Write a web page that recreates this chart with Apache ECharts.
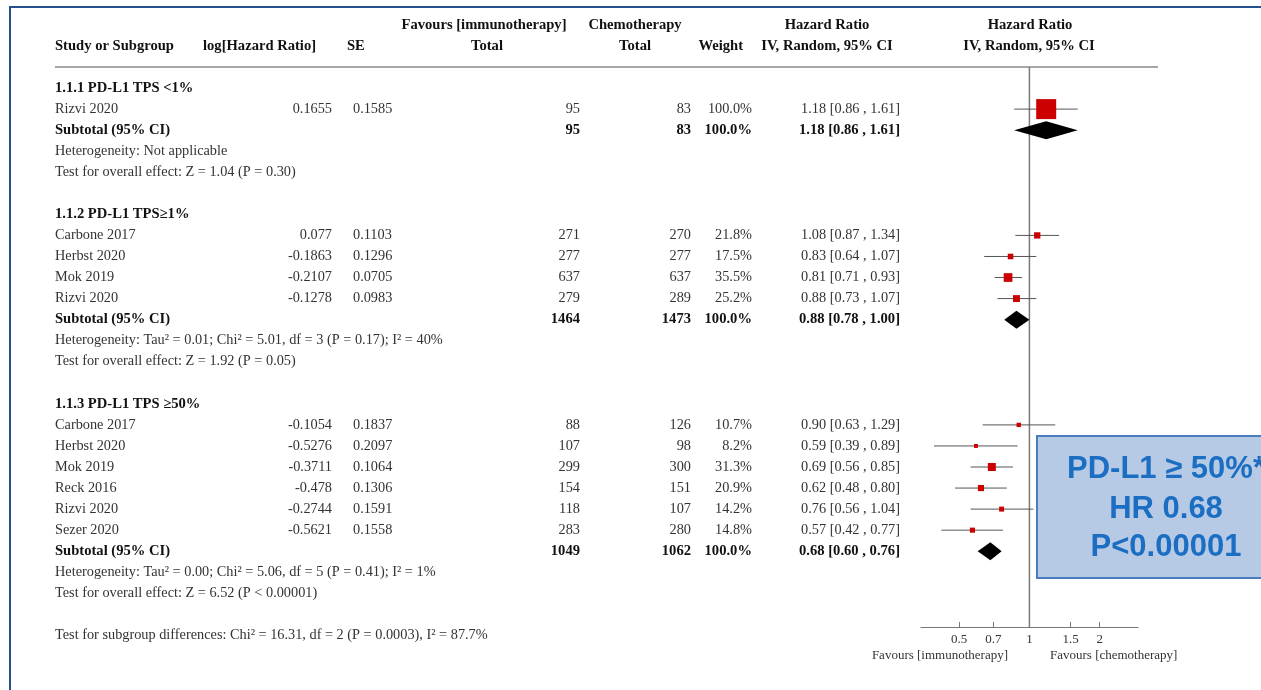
<!DOCTYPE html>
<html>
<head>
<meta charset="utf-8">
<script src="https://cdn.jsdelivr.net/npm/echarts@6/dist/echarts.min.js"></script>
<style>
  html, body { margin: 0; padding: 0; background: #ffffff; }
  #chart { width: 1261px; height: 690px; }
</style>
</head>
<body>
<div id="chart"></div>
<script>
// Subgroups
const groupTitles = ['1.1.1 PD-L1 TPS <1%', '1.1.2 PD-L1 TPS\u22651%', '1.1.3 PD-L1 TPS \u226550%'];

// Individual studies
const studyNames  = ['Rizvi 2020', 'Carbone 2017', 'Herbst 2020', 'Mok 2019', 'Rizvi 2020',
                     'Carbone 2017', 'Herbst 2020', 'Mok 2019', 'Reck 2016', 'Rizvi 2020', 'Sezer 2020'];
const studyGroup  = [0, 1, 1, 1, 1, 2, 2, 2, 2, 2, 2];
const logHR       = [0.1655, 0.077, -0.1863, -0.2107, -0.1278, -0.1054, -0.5276, -0.3711, -0.478, -0.2744, -0.5621];
const seLogHR     = [0.1585, 0.1103, 0.1296, 0.0705, 0.0983, 0.1837, 0.2097, 0.1064, 0.1306, 0.1591, 0.1558];
const immunoTotal = [95, 271, 277, 637, 279, 88, 107, 299, 154, 118, 283];
const chemoTotal  = [83, 270, 277, 637, 289, 126, 98, 300, 151, 107, 280];
const weightPct   = [100.0, 21.8, 17.5, 35.5, 25.2, 10.7, 8.2, 31.3, 20.9, 14.2, 14.8];
const hrEst       = [1.18, 1.08, 0.83, 0.81, 0.88, 0.90, 0.59, 0.69, 0.62, 0.76, 0.57];
const hrLow       = [0.86, 0.87, 0.64, 0.71, 0.73, 0.63, 0.39, 0.56, 0.48, 0.56, 0.42];
const hrHigh      = [1.61, 1.34, 1.07, 0.93, 1.07, 1.29, 0.89, 0.85, 0.80, 1.04, 0.77];

// Subgroup totals
const subImmunoTotal = [95, 1464, 1049];
const subChemoTotal  = [83, 1473, 1062];
const subWeightPct   = [100.0, 100.0, 100.0];
const subHrEst       = [1.18, 0.88, 0.68];
const subHrLow       = [0.86, 0.78, 0.60];
const subHrHigh      = [1.61, 1.00, 0.76];
const heterogeneity  = [
  'Heterogeneity: Not applicable',
  'Heterogeneity: Tau\u00b2 = 0.01; Chi\u00b2 = 5.01, df = 3 (P = 0.17); I\u00b2 = 40%',
  'Heterogeneity: Tau\u00b2 = 0.00; Chi\u00b2 = 5.06, df = 5 (P = 0.41); I\u00b2 = 1%'
];
const overallEffect = [
  'Test for overall effect: Z = 1.04 (P = 0.30)',
  'Test for overall effect: Z = 1.92 (P = 0.05)',
  'Test for overall effect: Z = 6.52 (P < 0.00001)'
];
const subgroupDiff = 'Test for subgroup differences: Chi\u00b2 = 16.31, df = 2 (P = 0.0003), I\u00b2 = 87.7%';

// Hazard-ratio axis ticks
const hrTicks = [0.5, 0.7, 1, 1.5, 2];
const hrAxisMin = 0.343;
const hrAxisMax = 2.92;

// Callout
const calloutLines = ['PD-L1 \u2265 50%*', 'HR 0.68', 'P<0.00001'];

// ---------- build table rows ----------
const fmtHR = (e, l, h) => e.toFixed(2) + ' [' + l.toFixed(2) + ' , ' + h.toFixed(2) + ']';
const fmtW = w => w.toFixed(1) + '%';

const tableRows = [];    // {row, kind, cells | text}
const studyMarks = [];   // [lnLow, lnHigh, lnEst, row, weight]
const diamondMarks = []; // [lnLow, lnHigh, lnEst, row]
let row = 0;
groupTitles.forEach((title, g) => {
  tableRows.push({ row: row++, kind: 'title', text: title });
  studyNames.forEach((name, i) => {
    if (studyGroup[i] !== g) return;
    tableRows.push({ row: row, kind: 'study', cells: [name, String(logHR[i]), String(seLogHR[i]),
      String(immunoTotal[i]), String(chemoTotal[i]), fmtW(weightPct[i]), fmtHR(hrEst[i], hrLow[i], hrHigh[i])] });
    studyMarks.push([Math.log(hrLow[i]), Math.log(hrHigh[i]), Math.log(hrEst[i]), row, weightPct[i]]);
    row++;
  });
  tableRows.push({ row: row, kind: 'subtotal', cells: ['Subtotal (95% CI)', '', '',
    String(subImmunoTotal[g]), String(subChemoTotal[g]), fmtW(subWeightPct[g]),
    fmtHR(subHrEst[g], subHrLow[g], subHrHigh[g])] });
  diamondMarks.push([Math.log(subHrLow[g]), Math.log(subHrHigh[g]), Math.log(subHrEst[g]), row]);
  row++;
  tableRows.push({ row: row++, kind: 'note', text: heterogeneity[g] });
  tableRows.push({ row: row++, kind: 'note', text: overallEffect[g] });
  row++; // blank spacer
});
tableRows.push({ row: row, kind: 'note', text: subgroupDiff });

// ---------- styling ----------
const SERIF = '"Liberation Serif", "Times New Roman", serif';
const fReg = '14.3px ' + SERIF;
const fBold = 'bold 14.6px ' + SERIF;
const txtColor = '#333333';
const boldColor = '#111111';

// column anchors (pixels) : [x, align]
const cols = [[55, 'left'], [332, 'right'], [353, 'left'], [580, 'right'], [691, 'right'], [752, 'right'], [900, 'right']];

const chart = echarts.init(document.getElementById('chart'), null, { renderer: 'canvas' });

function headerText(x, y, text, align) {
  return { type: 'text', x: x, y: y, style: { text: text, font: fBold, fill: boldColor, align: align, verticalAlign: 'middle' } };
}

const option = {
  animation: false,
  backgroundColor: '#ffffff',
  grid: { left: 921, width: 217, top: 67, height: 560, containLabel: false },
  xAxis: {
    type: 'value',
    position: 'bottom',
    min: Math.log(hrAxisMin),
    max: Math.log(hrAxisMax),
    axisLine: { show: true, onZero: false, lineStyle: { color: '#777777', width: 1.2 } },
    axisTick: { show: true, inside: true, length: 5, customValues: hrTicks.map(Math.log), lineStyle: { color: '#777777' } },
    axisLabel: {
      customValues: hrTicks.map(Math.log),
      formatter: v => String(+Math.exp(v).toFixed(2)),
      fontFamily: SERIF, fontSize: 13, color: '#333333', margin: 6
    },
    splitLine: { show: false }
  },
  yAxis: { type: 'value', min: -1, max: 25.6, inverse: true, show: false },
  graphic: [
    // outer frame
    { type: 'rect', shape: { x: 10, y: 7, width: 1300, height: 720 }, style: { fill: 'none', stroke: '#24508f', lineWidth: 2 }, z: 10 },
    // header rule
    { type: 'line', shape: { x1: 55, y1: 67, x2: 1158, y2: 67 }, style: { stroke: '#8a8a8a', lineWidth: 1.5 } },
    headerText(484, 25, 'Favours [immunotherapy]', 'center'),
    headerText(635, 25, 'Chemotherapy', 'center'),
    headerText(827, 25, 'Hazard Ratio', 'center'),
    headerText(1030, 25, 'Hazard Ratio', 'center'),
    headerText(55, 46, 'Study or Subgroup', 'left'),
    headerText(203, 46, 'log[Hazard Ratio]', 'left'),
    headerText(347, 46, 'SE', 'left'),
    headerText(487, 46, 'Total', 'center'),
    headerText(651, 46, 'Total', 'right'),
    headerText(743, 46, 'Weight', 'right'),
    headerText(827, 46, 'IV, Random, 95% CI', 'center'),
    headerText(1029, 46, 'IV, Random, 95% CI', 'center'),
    { type: 'text', x: 1008, y: 656, style: { text: 'Favours [immunotherapy]', font: '13px ' + SERIF, fill: '#333333', align: 'right', verticalAlign: 'middle' } },
    { type: 'text', x: 1050, y: 656, style: { text: 'Favours [chemotherapy]', font: '13px ' + SERIF, fill: '#333333', align: 'left', verticalAlign: 'middle' } },
    // callout box
    { type: 'group', z: 20, children: [
      { type: 'rect', shape: { x: 1037, y: 436, width: 260, height: 142 }, style: { fill: '#b6cae6', stroke: '#4a7cc0', lineWidth: 2 } },
      ...calloutLines.map((t, i) => ({ type: 'text', x: 1166, y: [469, 509, 547][i],
        style: { text: t, font: 'bold 31px "Liberation Sans", Arial, sans-serif', fill: '#1b6ec2', align: 'center', verticalAlign: 'middle' } }))
    ] }
  ],
  series: [
    // line of no effect
    {
      type: 'line', data: [[0, -1], [0, 25.6]], symbol: 'none', silent: true,
      lineStyle: { color: '#7a7a7a', width: 1.5 }, z: 1
    },
    // table text, rows positioned by the y axis
    {
      type: 'custom', clip: false, silent: true, z: 3,
      data: tableRows.map((r, i) => [0, r.row, i]),
      renderItem: (params, api) => {
        const r = tableRows[params.dataIndex];
        const y = api.coord([0, api.value(1)])[1];
        if (r.kind === 'title' || r.kind === 'note') {
          const bold = r.kind === 'title';
          return { type: 'text', x: cols[0][0], y: y,
            style: { text: r.text, font: bold ? fBold : fReg, fill: bold ? boldColor : txtColor, align: 'left', verticalAlign: 'middle' } };
        }
        const bold = r.kind === 'subtotal';
        return { type: 'group', children: r.cells.map((c, k) => ({
          type: 'text', x: cols[k][0], y: y,
          style: { text: c, font: bold ? fBold : fReg, fill: bold ? boldColor : txtColor, align: cols[k][1], verticalAlign: 'middle' }
        })) };
      }
    },
    // study estimates with confidence intervals
    {
      type: 'custom', clip: false, silent: true, z: 4,
      data: studyMarks,
      renderItem: (params, api) => {
        const lo = api.coord([api.value(0), api.value(3)]);
        const hi = api.coord([api.value(1), api.value(3)]);
        const c = api.coord([api.value(2), api.value(3)]);
        const s = 2.5 + 0.175 * api.value(4);
        return { type: 'group', children: [
          { type: 'line', shape: { x1: lo[0], y1: lo[1], x2: hi[0], y2: hi[1] }, style: { stroke: '#555555', lineWidth: 1 } },
          { type: 'rect', shape: { x: c[0] - s / 2, y: c[1] - s / 2, width: s, height: s }, style: { fill: '#cc0000' } }
        ] };
      }
    },
    // subgroup pooled estimates
    {
      type: 'custom', clip: false, silent: true, z: 4,
      data: diamondMarks,
      renderItem: (params, api) => {
        const lo = api.coord([api.value(0), api.value(3)]);
        const hi = api.coord([api.value(1), api.value(3)]);
        const c = api.coord([api.value(2), api.value(3)]);
        const h = 9;
        return { type: 'polygon', shape: { points: [[lo[0], lo[1]], [c[0], c[1] - h], [hi[0], hi[1]], [c[0], c[1] + h]] },
          style: { fill: '#000000' } };
      }
    }
  ]
};

chart.setOption(option);
</script>
</body>
</html>
